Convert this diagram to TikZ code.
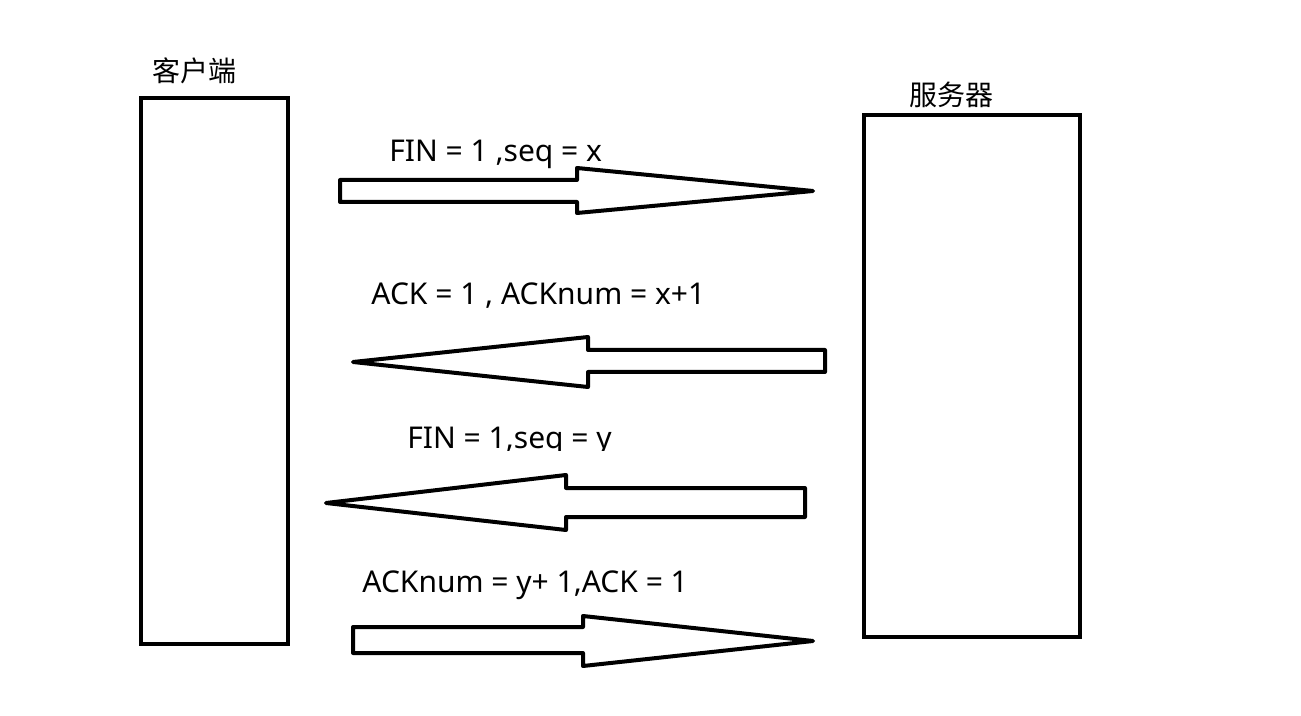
\documentclass[tikz,border=0pt]{standalone}
\usepackage{fontspec}
\setmainfont{Noto Sans}
\newfontfamily\cjk{Noto Sans CJK SC}
\begin{document}
\begin{tikzpicture}[x=0.5pt,y=-0.5pt,
  box/.style={draw=black,line width=2pt,inner sep=0pt,outer sep=0pt,anchor=north west},
  arr/.style={draw=black,line width=2pt,fill=white,line join=round},
  lbl/.style={anchor=base west,inner sep=0pt,font=\fontsize{15}{17}\selectfont},
  cjklbl/.style={anchor=base west,inner sep=0pt,font=\cjk\fontsize{14}{16}\selectfont}]
\useasboundingbox (0,0) rectangle (1301,716);
% boxes
\node[box,minimum width=73.5pt,minimum height=273pt] (client) at (141,98) {};
\node[box,minimum width=108pt,minimum height=261pt] (server) at (864,115) {};
\node[cjklbl] (clientlbl) at (152,82) {客户端};
\node[cjklbl] (serverlbl) at (909,106) {服务器};
% arrow 1 (right)
\draw[arr] (340,180) -- (577,180) -- (577,168) -- (813,191) -- (577,213) -- (577,202) -- (340,202) -- cycle;
\node[lbl] (l1) at (389,162) {FIN = 1 ,seq = x};
% arrow 2 (left)
\draw[arr] (825,350) -- (588,350) -- (588,337) -- (353,362) -- (588,387) -- (588,372) -- (825,372) -- cycle;
\node[lbl] (l2) at (371,305) {ACK = 1 , ACKnum = x+1};
% arrow 3 (left)
\draw[arr] (805,488) -- (566,488) -- (566,475) -- (326,503) -- (566,530) -- (566,517) -- (805,517) -- cycle;
\begin{scope}
\clip (380,400) rectangle (700,451);
\node[lbl] (l3) at (407,449) {FIN = 1,seq = y};
\end{scope}
% arrow 4 (right)
\draw[arr] (353,627) -- (583,627) -- (583,616) -- (813,641) -- (583,666) -- (583,653) -- (353,653) -- cycle;
\node[lbl] (l4) at (362,592) {ACKnum = y+ 1,ACK = 1};
\end{tikzpicture}
\end{document}
